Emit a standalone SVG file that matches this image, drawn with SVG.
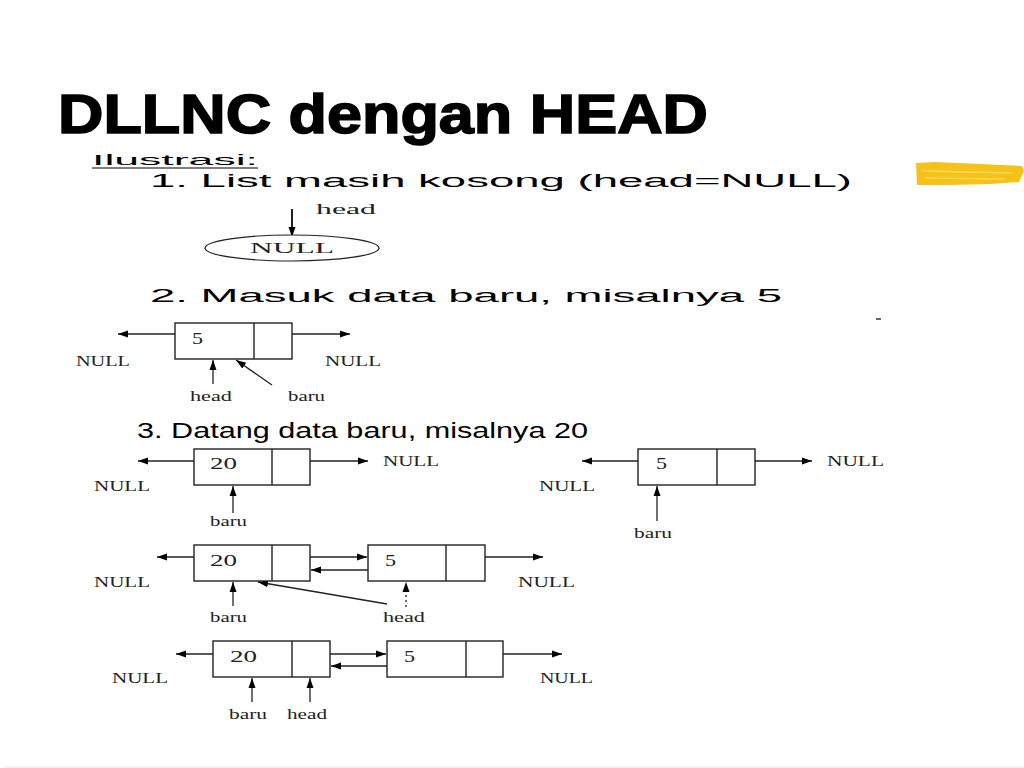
<svg xmlns="http://www.w3.org/2000/svg" width="1024" height="768" viewBox="0 0 1024 768">
<defs>
<marker id="ah" viewBox="0 0 10 10" refX="10" refY="5" markerWidth="10" markerHeight="10" markerUnits="userSpaceOnUse" orient="auto">
<path d="M0,1.5 L10,5 L0,8.5 Z" fill="#000"/>
</marker>
<style>
.t{font-family:"Liberation Sans",Arial,sans-serif;fill:#000}
.s{font-family:"Liberation Serif","Times New Roman",serif;font-size:15px;fill:#222}
.v{font-family:"Liberation Serif","Times New Roman",serif;font-size:17px;fill:#222}
.box{fill:#fff;stroke:#222;stroke-width:1.4}
.c{stroke:#222;stroke-width:1.3;fill:none;marker-end:url(#ah)}
</style>
</defs>
<rect width="1024" height="768" fill="#fff"/>
<text class="t" x="58" y="133" font-size="56" font-weight="bold" stroke="#000" stroke-width="1.6" textLength="650" lengthAdjust="spacingAndGlyphs">DLLNC dengan HEAD</text>
<path d="M916,163 L935,162 L980,164 L1022,166 L1024,171 L1019,182 L990,184 L950,185 L917,185 Z" fill="#F6C21A"/>
<path d="M922,171 L1012,173 M925,178 L1005,179" stroke="#F9D65A" stroke-width="1.5"/>
<line x1="4" y1="767" x2="1024" y2="767" stroke="#e6e6e6" stroke-width="1"/>

<text class="t" x="92" y="165" font-size="15" textLength="166" lengthAdjust="spacingAndGlyphs">Ilustrasi:</text>
<line x1="92" y1="168" x2="258" y2="168" stroke="#000" stroke-width="1.2"/>
<text class="t" x="150" y="187" font-size="18" textLength="702" lengthAdjust="spacingAndGlyphs">1.   List masih kosong (head=NULL)</text>
<text class="t" x="150" y="302" font-size="18" textLength="632" lengthAdjust="spacingAndGlyphs">2.   Masuk data baru, misalnya 5</text>
<line x1="876" y1="319" x2="881" y2="319" stroke="#333" stroke-width="1.5"/>
<text class="t" x="137" y="438" font-size="22" textLength="451" lengthAdjust="spacingAndGlyphs">3. Datang data baru, misalnya 20</text>

<g id="connectors">
<line class="c" x1="292" y1="209" x2="292" y2="237" style="stroke-width:2"/>
<line class="c" x1="175" y1="334" x2="118" y2="334"/>
<line class="c" x1="292" y1="334" x2="350" y2="334"/>
<line class="c" x1="213" y1="384" x2="213" y2="360"/>
<line class="c" x1="272" y1="385" x2="236" y2="360"/>
<line class="c" x1="194" y1="461" x2="138" y2="461"/>
<line class="c" x1="310" y1="461" x2="368" y2="461"/>
<line class="c" x1="233" y1="513" x2="233" y2="486"/>
<line class="c" x1="638" y1="461" x2="582" y2="461"/>
<line class="c" x1="755" y1="461" x2="812" y2="461"/>
<line class="c" x1="657" y1="521" x2="657" y2="486"/>
<line class="c" x1="194" y1="557" x2="157" y2="557"/>
<line class="c" x1="310" y1="557" x2="367" y2="557"/>
<line class="c" x1="368" y1="570" x2="311" y2="570"/>
<line class="c" x1="485" y1="557" x2="543" y2="557"/>
<line class="c" x1="233" y1="606" x2="233" y2="582"/>
<line class="c" x1="387" y1="604" x2="258" y2="582"/>
<line class="c" x1="406" y1="607" x2="406" y2="582" style="stroke-dasharray:2,3"/>
<line class="c" x1="213" y1="654" x2="176" y2="654"/>
<line class="c" x1="330" y1="654" x2="386" y2="654"/>
<line class="c" x1="387" y1="666" x2="331" y2="666"/>
<line class="c" x1="503" y1="654" x2="562" y2="654"/>
<line class="c" x1="252" y1="702" x2="252" y2="678"/>
<line class="c" x1="310" y1="702" x2="310" y2="678"/>
</g>

<g id="null1">
<ellipse cx="292" cy="248" rx="87" ry="13" fill="#fff" stroke="#222" stroke-width="1.2"/>
<text class="s" x="250" y="253" font-size="13" textLength="84" lengthAdjust="spacingAndGlyphs">NULL</text>
</g>
<text class="s" x="316" y="214" textLength="60" lengthAdjust="spacingAndGlyphs">head</text>

<g id="node2">
<rect class="box" x="175" y="323" width="117" height="36"/>
<line x1="254" y1="323" x2="254" y2="359" stroke="#222" stroke-width="1.4"/>
<text class="v" x="192" y="344" textLength="11" lengthAdjust="spacingAndGlyphs">5</text>
</g>
<text class="s" x="76" y="366" textLength="54" lengthAdjust="spacingAndGlyphs">NULL</text>
<text class="s" x="325" y="366" textLength="56" lengthAdjust="spacingAndGlyphs">NULL</text>
<text class="s" x="190" y="401" textLength="42" lengthAdjust="spacingAndGlyphs">head</text>
<text class="s" x="288" y="401" textLength="37" lengthAdjust="spacingAndGlyphs">baru</text>

<g id="node3a">
<rect class="box" x="194" y="449" width="116" height="36"/>
<line x1="272" y1="449" x2="272" y2="485" stroke="#222" stroke-width="1.4"/>
<text class="v" x="210" y="469" textLength="27" lengthAdjust="spacingAndGlyphs">20</text>
</g>
<text class="s" x="383" y="466" textLength="56" lengthAdjust="spacingAndGlyphs">NULL</text>
<text class="s" x="94" y="491" textLength="56" lengthAdjust="spacingAndGlyphs">NULL</text>
<text class="s" x="210" y="526" textLength="37" lengthAdjust="spacingAndGlyphs">baru</text>

<g id="node3b">
<rect class="box" x="638" y="449" width="117" height="36"/>
<line x1="717" y1="449" x2="717" y2="485" stroke="#222" stroke-width="1.4"/>
<text class="v" x="656" y="469" textLength="11" lengthAdjust="spacingAndGlyphs">5</text>
</g>
<text class="s" x="827" y="466" textLength="57" lengthAdjust="spacingAndGlyphs">NULL</text>
<text class="s" x="539" y="491" textLength="56" lengthAdjust="spacingAndGlyphs">NULL</text>
<text class="s" x="634" y="538" textLength="38" lengthAdjust="spacingAndGlyphs">baru</text>

<g id="node4a">
<rect class="box" x="194" y="545" width="116" height="36"/>
<line x1="272" y1="545" x2="272" y2="581" stroke="#222" stroke-width="1.4"/>
<text class="v" x="210" y="566" textLength="27" lengthAdjust="spacingAndGlyphs">20</text>
</g>
<g id="node4b">
<rect class="box" x="368" y="545" width="117" height="36"/>
<line x1="446" y1="545" x2="446" y2="581" stroke="#222" stroke-width="1.4"/>
<text class="v" x="385" y="566" textLength="11" lengthAdjust="spacingAndGlyphs">5</text>
</g>
<text class="s" x="94" y="587" textLength="56" lengthAdjust="spacingAndGlyphs">NULL</text>
<text class="s" x="518" y="587" textLength="57" lengthAdjust="spacingAndGlyphs">NULL</text>
<text class="s" x="210" y="622" textLength="37" lengthAdjust="spacingAndGlyphs">baru</text>
<text class="s" x="383" y="622" textLength="42" lengthAdjust="spacingAndGlyphs">head</text>

<g id="node5a">
<rect class="box" x="213" y="641" width="117" height="36"/>
<line x1="292" y1="641" x2="292" y2="677" stroke="#222" stroke-width="1.4"/>
<text class="v" x="230" y="662" textLength="27" lengthAdjust="spacingAndGlyphs">20</text>
</g>
<g id="node5b">
<rect class="box" x="387" y="641" width="116" height="36"/>
<line x1="466" y1="641" x2="466" y2="677" stroke="#222" stroke-width="1.4"/>
<text class="v" x="404" y="662" textLength="11" lengthAdjust="spacingAndGlyphs">5</text>
</g>
<text class="s" x="112" y="683" textLength="56" lengthAdjust="spacingAndGlyphs">NULL</text>
<text class="s" x="540" y="683" textLength="53" lengthAdjust="spacingAndGlyphs">NULL</text>
<text class="s" x="229" y="719" textLength="38" lengthAdjust="spacingAndGlyphs">baru</text>
<text class="s" x="287" y="719" textLength="40" lengthAdjust="spacingAndGlyphs">head</text>
</svg>
